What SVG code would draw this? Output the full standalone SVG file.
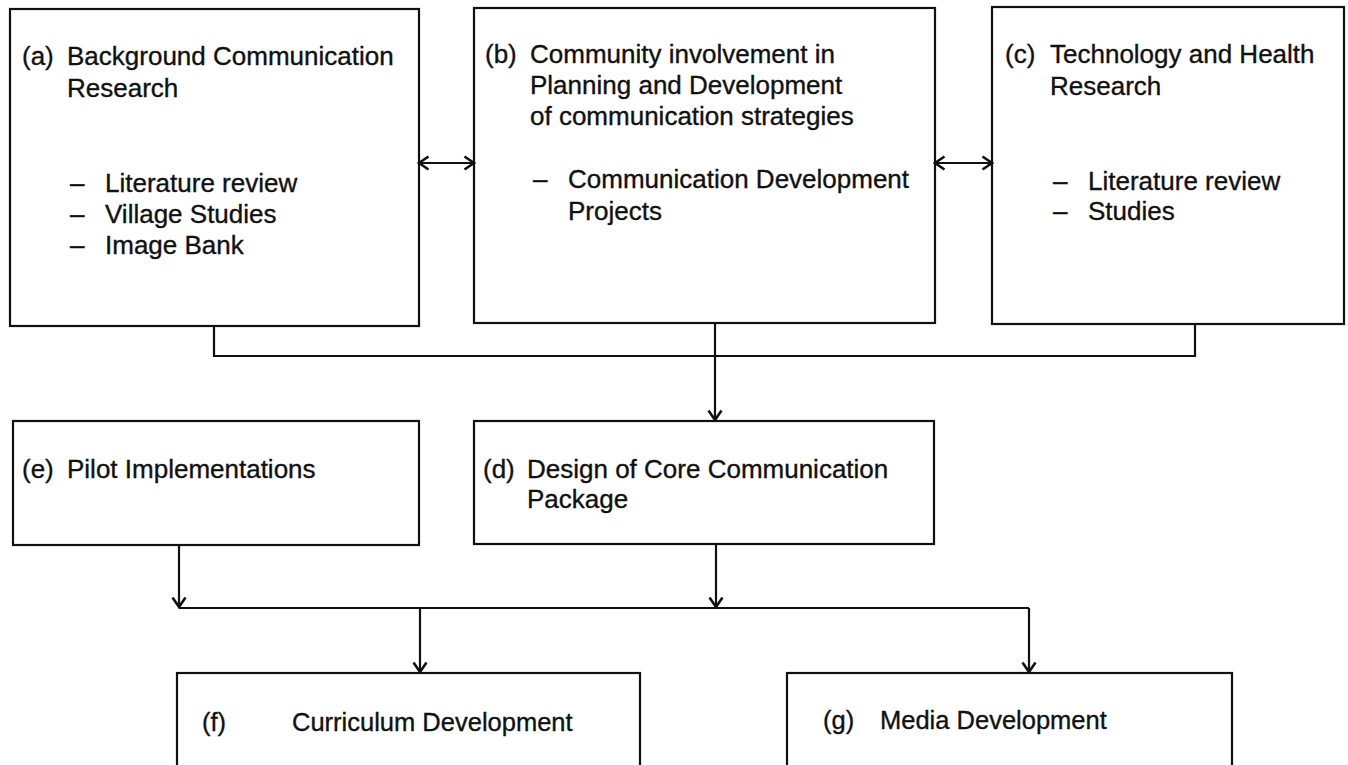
<svg xmlns="http://www.w3.org/2000/svg" width="1348" height="765" viewBox="0 0 1348 765">
  <style>
    .box { fill: none; stroke: #111; stroke-width: 2.2; }
    .wire { fill: none; stroke: #111; stroke-width: 2.2; }
    text { font-family: "Liberation Sans", Arial, sans-serif; font-size: 26px; fill: #111; stroke: #111; stroke-width: 0.35; }
    .low { font-size: 25.5px; }
  </style>
  <defs>
    <marker id="chev" markerUnits="userSpaceOnUse" markerWidth="14" markerHeight="16" refX="11" refY="8" orient="auto-start-reverse" overflow="visible">
      <path d="M1.5,1.5 L11,8 L1.5,14.5" fill="none" stroke="#111" stroke-width="2.6"/>
    </marker>
  </defs>
  <rect width="1348" height="765" fill="#fff"/>

  <!-- (a) background communication research -->
  <g id="node-a">
    <rect class="box" x="10" y="9" width="409" height="317"/>
    <text x="22" y="65">(a)</text>
    <text x="67" y="65">Background Communication</text>
    <text x="67" y="97">Research</text>
    <text x="70" y="192">–</text>
    <text x="105" y="192">Literature review</text>
    <text x="70" y="223">–</text>
    <text x="105" y="223">Village Studies</text>
    <text x="70" y="254">–</text>
    <text x="105" y="254">Image Bank</text>
  </g>

  <!-- (b) community involvement -->
  <g id="node-b">
    <rect class="box" x="474" y="8" width="461" height="315"/>
    <text x="485" y="63">(b)</text>
    <text x="530" y="63">Community involvement in</text>
    <text x="530" y="94">Planning and Development</text>
    <text x="530" y="125">of communication strategies</text>
    <text x="533" y="188">–</text>
    <text x="568" y="188">Communication Development</text>
    <text x="568" y="220">Projects</text>
  </g>

  <!-- (c) technology and health research -->
  <g id="node-c">
    <rect class="box" x="992" y="7" width="352" height="317"/>
    <text x="1005" y="63">(c)</text>
    <text x="1050" y="63">Technology and Health</text>
    <text x="1050" y="95">Research</text>
    <text x="1053" y="190">–</text>
    <text x="1088" y="190">Literature review</text>
    <text x="1053" y="220">–</text>
    <text x="1088" y="220">Studies</text>
  </g>

  <!-- (e) pilot implementations -->
  <g id="node-e">
    <rect class="box" x="13" y="421" width="406" height="124"/>
    <text x="22" y="478">(e)</text>
    <text x="67" y="478">Pilot Implementations</text>
  </g>

  <!-- (d) core communication package -->
  <g id="node-d">
    <rect class="box" x="474" y="421" width="460" height="123"/>
    <text x="483" y="478">(d)</text>
    <text x="527" y="478">Design of Core Communication</text>
    <text x="527" y="508">Package</text>
  </g>

  <!-- (f) curriculum development -->
  <g id="node-f">
    <rect class="box" x="177" y="673" width="463" height="120"/>
    <text class="low" x="202" y="731">(f)</text>
    <text class="low" x="292" y="731">Curriculum Development</text>
  </g>

  <!-- (g) media development -->
  <g id="node-g">
    <rect class="box" x="787" y="673" width="445" height="120"/>
    <text class="low" x="823" y="729">(g)</text>
    <text class="low" x="880" y="729">Media Development</text>
  </g>

  <!-- connectors -->
  <g id="connectors">
    <line class="wire" x1="419" y1="163" x2="474" y2="163" marker-start="url(#chev)" marker-end="url(#chev)"/>
    <line class="wire" x1="935" y1="163" x2="992" y2="163" marker-start="url(#chev)" marker-end="url(#chev)"/>
    <path class="wire" d="M214,326 V356 H1195 V324"/>
    <line class="wire" x1="715" y1="323" x2="715" y2="420" marker-end="url(#chev)"/>
    <line class="wire" x1="179" y1="545" x2="179" y2="607" marker-end="url(#chev)"/>
    <line class="wire" x1="716" y1="544" x2="716" y2="607" marker-end="url(#chev)"/>
    <line class="wire" x1="179" y1="608" x2="1029" y2="608"/>
    <line class="wire" x1="420" y1="608" x2="420" y2="672" marker-end="url(#chev)"/>
    <line class="wire" x1="1029" y1="608" x2="1029" y2="672" marker-end="url(#chev)"/>
  </g>
</svg>
